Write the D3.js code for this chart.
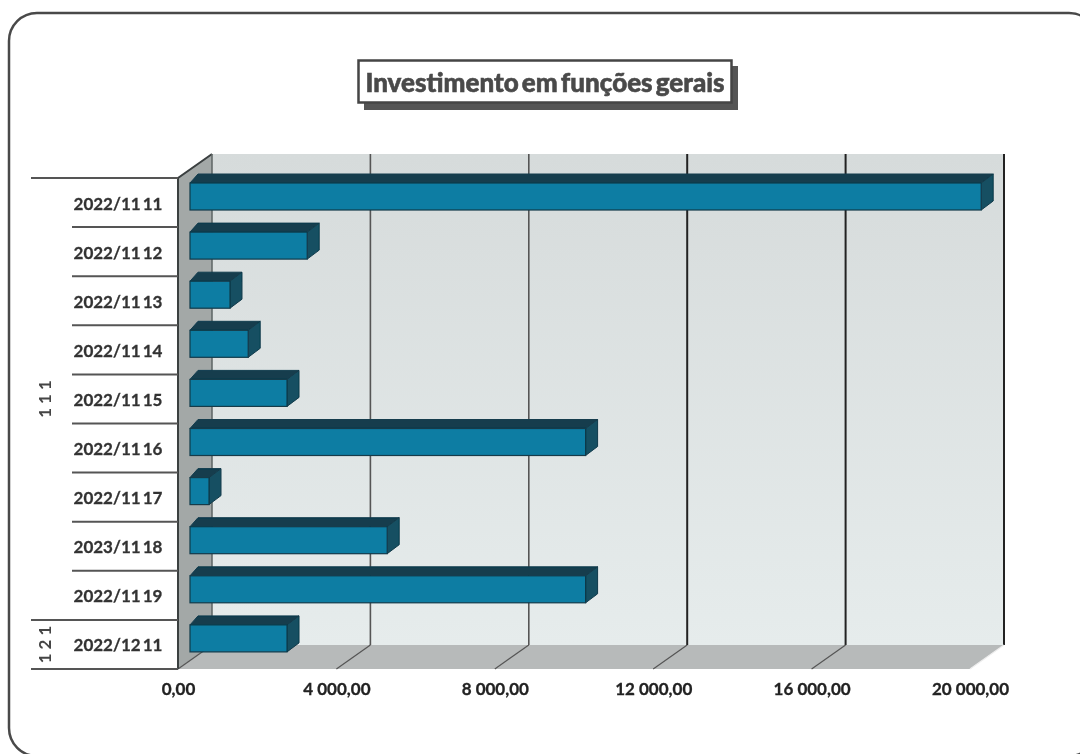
<!DOCTYPE html>
<html>
<head>
<meta charset="utf-8">
<script src="https://cdn.jsdelivr.net/npm/d3@7"></script>
<style>
  html, body { margin: 0; padding: 0; background: #fff; overflow: hidden; }
  svg { display: block; }
  text { font-family: Lato, "Open Sans", sans-serif; font-weight: 700; }
</style>
</head>
<body>
<svg id="chart" width="1080" height="754"></svg>
<script>
var categories = ['2022/11 11', '2022/11 12', '2022/11 13', '2022/11 14', '2022/11 15',
                  '2022/11 16', '2022/11 17', '2023/11 18', '2022/11 19', '2022/12 11'];
var values = [19980, 2960, 1010, 1470, 2450, 9990, 480, 4980, 9990, 2450];
var xTicks = [0, 4000, 8000, 12000, 16000, 20000];
var groupLabels = ['1 1 1', '1 2 1'];
var groupSpans = [[0, 8], [9, 9]];
var chartTitle = 'Investimento em funções gerais';

var svg = d3.select('#chart');

var defs = svg.append('defs');
defs.append('filter').attr('id', 'scan')
  .append('feGaussianBlur').attr('stdDeviation', 0.6);
var wallGrad = defs.append('linearGradient').attr('id', 'wallGrad')
  .attr('x1', 0).attr('y1', 0).attr('x2', 0).attr('y2', 1);
wallGrad.append('stop').attr('offset', '0%').attr('stop-color', '#d6dbdb');
wallGrad.append('stop').attr('offset', '100%').attr('stop-color', '#e6ecec');

var root = svg.append('g').attr('filter', 'url(#scan)');

// front plane of the 3d box, the back wall is shifted by depth
var depthX = 34, depthY = -24;
var barDepthX = 12, barDepthY = -9;
var barOffset = 12;
var x = d3.scaleLinear().domain([0, 20000]).range([178, 970]);
var y = d3.scaleBand().domain(categories).range([178, 669]);
var top_ = y.range()[0], bottom = y.range()[1];
var barH = 27;

function poly(pts) {
  return pts.map(function(p) { return p.join(','); }).join(' ');
}

// outer frame, runs off the page on the right and at the bottom
root.append('rect')
  .attr('x', 9).attr('y', 13)
  .attr('width', 1088).attr('height', 743)
  .attr('rx', 28).attr('ry', 28)
  .attr('fill', 'none').attr('stroke', '#4a4a4a').attr('stroke-width', 2.5);

// title box
root.append('rect').attr('x', 364).attr('y', 66).attr('width', 374).attr('height', 44).attr('fill', '#555');
root.append('rect').attr('x', 358.5).attr('y', 60.5).attr('width', 373).attr('height', 42)
  .attr('fill', '#fff').attr('stroke', '#444').attr('stroke-width', 2.5);
root.append('text')
  .attr('x', 545).attr('y', 92)
  .attr('text-anchor', 'middle')
  .attr('font-size', 26)
  .attr('word-spacing', -3)
  .attr('fill', '#4a4a4a')
  .attr('stroke', '#4a4a4a').attr('stroke-width', 0.6)
  .style('font-weight', 900)
  .text(chartTitle);

// walls
var xL = x(0), xR = x(20000);
root.append('polygon')
  .attr('points', poly([[xL + depthX, top_ + depthY], [xR + depthX, top_ + depthY], [xR + depthX, bottom + depthY], [xL + depthX, bottom + depthY]]))
  .attr('fill', 'url(#wallGrad)');
root.append('polygon')
  .attr('points', poly([[xL, top_], [xL + depthX, top_ + depthY], [xL + depthX, bottom + depthY], [xL, bottom]]))
  .attr('fill', '#a3a8a7');
root.append('polygon')
  .attr('points', poly([[xL, bottom], [xL + depthX, bottom + depthY], [xR + depthX, bottom + depthY], [xR, bottom]]))
  .attr('fill', '#b7baba');

// gridlines on the back wall and over the floor
xTicks.forEach(function(t) {
  var px = x(t);
  if (t > 0) {
    root.append('line')
      .attr('x1', px + depthX).attr('x2', px + depthX)
      .attr('y1', top_ + depthY).attr('y2', bottom + depthY)
      .attr('stroke', t >= 12000 ? '#222' : '#555')
      .attr('stroke-width', t >= 12000 ? 2 : 1.6);
  }
  root.append('line')
    .attr('x1', px + depthX).attr('x2', px)
    .attr('y1', bottom + depthY).attr('y2', bottom)
    .attr('stroke', t === 20000 ? '#eee' : '#555')
    .attr('stroke-width', 1.2);
});

// left axis edge and top corner
root.append('polyline')
  .attr('points', poly([[xL, bottom], [xL, top_], [xL + depthX, top_ + depthY]]))
  .attr('fill', 'none').attr('stroke', '#3a3f40').attr('stroke-width', 2);
root.append('line')
  .attr('x1', xL + depthX).attr('x2', xL + depthX)
  .attr('y1', top_ + depthY).attr('y2', bottom + depthY)
  .attr('stroke', '#5c6463').attr('stroke-width', 1.5);

// 3d bars
var bars = root.selectAll('.bar')
  .data(categories)
  .enter().append('g').attr('class', 'bar');

function barX1(d, i) { return x(values[i]) + barOffset; }
function barY0(d) { return y(d) + 5; }

bars.append('polygon')
  .attr('points', function(d, i) {
    var x0 = xL + barOffset, x1 = barX1(d, i), y0 = barY0(d);
    return poly([[x0, y0], [x0 + 8, y0 + barDepthY], [x1 + barDepthX, y0 + barDepthY], [x1, y0]]);
  })
  .attr('fill', '#123c4e').attr('stroke', '#123c4e');
bars.append('polygon')
  .attr('points', function(d, i) {
    var x1 = barX1(d, i), y0 = barY0(d);
    return poly([[x1, y0], [x1 + barDepthX, y0 + barDepthY], [x1 + barDepthX, y0 + barH + barDepthY], [x1, y0 + barH]]);
  })
  .attr('fill', '#124f62').attr('stroke', '#123a4a');
bars.append('rect')
  .attr('x', xL + barOffset)
  .attr('y', barY0)
  .attr('width', function(d, i) { return barX1(d, i) - xL - barOffset; })
  .attr('height', barH)
  .attr('fill', '#0b7da3').attr('stroke', '#123a4a').attr('stroke-width', 1.2);

// category labels and the two level axis
root.selectAll('.catLabel')
  .data(categories)
  .enter().append('text')
  .attr('class', 'catLabel')
  .attr('x', 118)
  .attr('y', function(d) { return y(d) + y.bandwidth() / 2 + 7; })
  .attr('text-anchor', 'middle')
  .attr('font-size', 17)
  .attr('word-spacing', -2)
  .attr('fill', '#333')
  .attr('stroke', '#333').attr('stroke-width', 0.3)
  .text(function(d) { return d; });

d3.range(categories.length + 1).forEach(function(i) {
  var py = i < categories.length ? y(categories[i]) : bottom;
  var isGroup = i === 0 || i === 9 || i === categories.length;
  root.append('line')
    .attr('x1', isGroup ? 31 : 72).attr('x2', xL)
    .attr('y1', py).attr('y2', py)
    .attr('stroke', '#555').attr('stroke-width', 2);
});

root.selectAll('.groupLabel')
  .data(groupLabels)
  .enter().append('text')
  .attr('class', 'groupLabel')
  .attr('transform', function(d, i) {
    var span = groupSpans[i];
    var cy = (y(categories[span[0]]) + y(categories[span[1]]) + y.bandwidth()) / 2;
    return 'translate(51,' + cy + ') rotate(-90)';
  })
  .attr('text-anchor', 'middle')
  .attr('font-size', 17)
  .attr('fill', '#444')
  .text(function(d) { return d; });

// value axis labels
var ptLocale = d3.formatLocale({ decimal: ',', thousands: '\u00a0', grouping: [3], currency: ['', ''] });
var xAxis = d3.axisBottom(x)
  .tickValues(xTicks)
  .tickFormat(ptLocale.format(',.2f'))
  .tickSize(0)
  .tickPadding(14);
var axisG = root.append('g')
  .attr('transform', 'translate(0,' + bottom + ')')
  .call(xAxis);
axisG.select('.domain').remove();
axisG.selectAll('text')
  .attr('font-size', 17)
  .attr('fill', '#222')
  .attr('stroke', '#222').attr('stroke-width', 0.3)
  .style('font-family', 'Lato, sans-serif');
</script>
</body>
</html>
